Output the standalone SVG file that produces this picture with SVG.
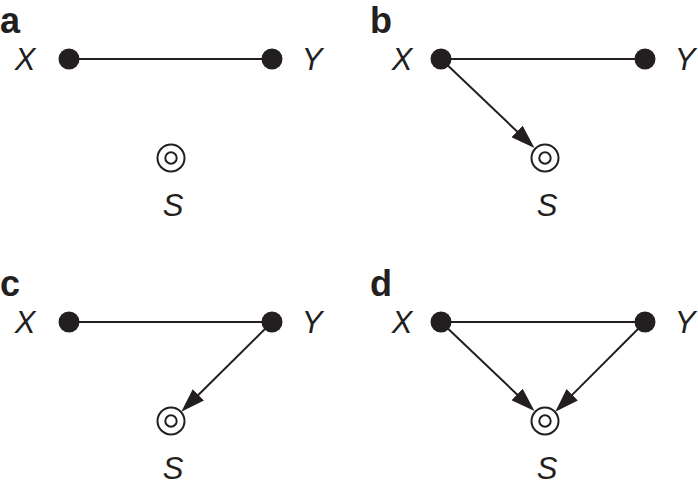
<svg xmlns="http://www.w3.org/2000/svg" width="698" height="485" viewBox="0 0 698 485">
<style>
.panel{font-family:"Liberation Sans",Arial,sans-serif;font-weight:bold;font-size:36px;fill:#231f20}
.lbl{font-family:"Liberation Sans",Arial,sans-serif;font-style:italic;font-size:31px;fill:#231f20;text-anchor:middle}
.dot{fill:#231f20}
.sel{fill:#fff;stroke:#231f20;stroke-width:2}
.edge{stroke:#231f20;stroke-width:2;fill:none}
</style>
<defs>
<marker id="ah" markerUnits="userSpaceOnUse" markerWidth="24" markerHeight="16" viewBox="0 0 24 16" refX="4" refY="8" orient="auto">
<path d="M0,0 L24,8 L0,16 z" fill="#231f20"/>
</marker>
</defs>
<rect width="698" height="485" fill="#fff"/>
<g id="panel-labels">
<text class="panel" x="0" y="33">a</text>
<text class="panel" x="370" y="33">b</text>
<text class="panel" x="0" y="296">c</text>
<text class="panel" x="370" y="296">d</text>
</g>
<g id="connectors">
<line class="edge" x1="69" y1="59" x2="272" y2="59"/>
<line class="edge" x1="441" y1="59" x2="520" y2="134.2" marker-end="url(#ah)"/>
<line class="edge" x1="441" y1="59" x2="645" y2="59"/>
<line class="edge" x1="69" y1="322" x2="272" y2="322"/>
<line class="edge" x1="272" y1="322" x2="195.5" y2="397.7" marker-end="url(#ah)"/>
<line class="edge" x1="441" y1="322" x2="645" y2="322"/>
<line class="edge" x1="441" y1="322" x2="520" y2="397.2" marker-end="url(#ah)"/>
<line class="edge" x1="645" y1="322" x2="569.4" y2="397.6" marker-end="url(#ah)"/>
</g>
<g id="a-X"><circle class="dot" cx="69" cy="59" r="10.5"/><text class="lbl" x="25" y="70">X</text></g>
<g id="a-Y"><circle class="dot" cx="272" cy="59" r="10.5"/><text class="lbl" x="312" y="70">Y</text></g>
<g id="a-S"><circle class="sel" cx="171" cy="158" r="13.5"/><circle class="sel" cx="171" cy="158" r="5.7"/><text class="lbl" x="173" y="216">S</text></g>
<g id="b-X"><circle class="dot" cx="441" cy="59" r="10.5"/><text class="lbl" x="402" y="70">X</text></g>
<g id="b-Y"><circle class="dot" cx="645" cy="59" r="10.5"/><text class="lbl" x="685" y="70">Y</text></g>
<g id="b-S"><circle class="sel" cx="545" cy="158" r="13.5"/><circle class="sel" cx="545" cy="158" r="5.7"/><text class="lbl" x="547" y="216">S</text></g>
<g id="c-X"><circle class="dot" cx="69" cy="322" r="10.5"/><text class="lbl" x="25" y="333">X</text></g>
<g id="c-Y"><circle class="dot" cx="272" cy="322" r="10.5"/><text class="lbl" x="312" y="333">Y</text></g>
<g id="c-S"><circle class="sel" cx="171" cy="421" r="13.5"/><circle class="sel" cx="171" cy="421" r="5.7"/><text class="lbl" x="173" y="479">S</text></g>
<g id="d-X"><circle class="dot" cx="441" cy="322" r="10.5"/><text class="lbl" x="402" y="333">X</text></g>
<g id="d-Y"><circle class="dot" cx="645" cy="322" r="10.5"/><text class="lbl" x="685" y="333">Y</text></g>
<g id="d-S"><circle class="sel" cx="545" cy="421" r="13.5"/><circle class="sel" cx="545" cy="421" r="5.7"/><text class="lbl" x="547" y="479">S</text></g>
</svg>
